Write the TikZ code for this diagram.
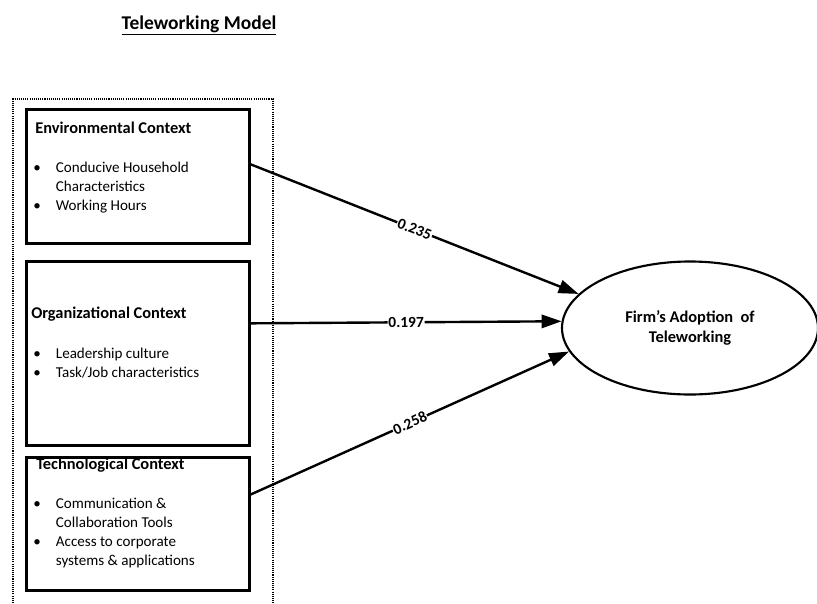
\documentclass[tikz,border=0pt]{standalone}
\usepackage{fontspec}
\setmainfont{Carlito}
\usetikzlibrary{arrows.meta,shapes.geometric}

\tikzset{
  ctxbox/.style={draw, line width=2pt, minimum width=167.25pt, inner sep=0pt, anchor=north west},
  boxtitle/.style={anchor=base west, inner sep=0pt, font=\fontsize{12.3}{14}\selectfont\bfseries},
  itemlist/.style={anchor=base west, inner sep=0pt, font=\fontsize{11.3}{14.4}\selectfont},
  coefarrow/.style={line width=1.8pt, -{Triangle[length=15pt,width=10pt]}},
  coef/.style={midway, sloped, fill=white, inner sep=0.6pt, font=\fontsize{11.6}{13}\selectfont\bfseries},
}
\newcommand{\bitem}{\textbullet}

\begin{document}
\begin{tikzpicture}[x=0.75pt, y=-0.75pt]
  \useasboundingbox (0,0) rectangle (817,603);

  % heading
  \node[anchor=base, inner sep=0pt, font=\fontsize{14.6}{17}\selectfont\bfseries] (heading) at (199,29) {\underline{Teleworking Model}};

  % dotted frame round the three contexts (open at the bottom)
  \draw[line width=0.8pt, dash pattern=on 0.8pt off 0.8pt] (13,603) -- (13,99) -- (273,99) -- (273,603);

  % context boxes
  \node[ctxbox, minimum height=100.5pt] (env) at (25,108) {};
  \node[ctxbox, minimum height=138pt] (org) at (25,260) {};
  \node[ctxbox, minimum height=99.75pt] (tech) at (25,456) {};

  % environmental context
  \node[boxtitle] (envtitle) at (35,133) {Environmental Context};
  \node[itemlist] (envitems) at (33,172) {\begin{tabular}[t]{@{}p{17pt}@{}l@{}}
    \bitem & Conducive Household\\
           & Characteristics\\
    \bitem & Working Hours
  \end{tabular}};

  % organizational context
  \node[boxtitle] (orgtitle) at (31,318) {Organizational Context};
  \node[itemlist] (orgitems) at (33,358) {\begin{tabular}[t]{@{}p{17pt}@{}l@{}}
    \bitem & Leadership culture\\
    \bitem & Task/Job characteristics
  \end{tabular}};

  % technological context
  \node[boxtitle] (techtitle) at (36,469) {Technological Context};
  \node[itemlist] (techitems) at (33,508) {\begin{tabular}[t]{@{}p{17pt}@{}l@{}}
    \bitem & Communication \&\\
           & Collaboration Tools\\
    \bitem & Access to corporate\\
           & systems \& applications
  \end{tabular}};

  % outcome
  \node[draw, ellipse, line width=1.6pt, minimum width=192pt, minimum height=99.75pt, inner sep=0pt,
        align=center, font=\fontsize{12.3}{14.5}\selectfont\bfseries] (firm) at (690,328)
        {Firm’s Adoption~ of\\Teleworking};

  % path coefficients
  \coordinate (envout) at ([yshift=9pt]env.east);
  \coordinate (orgout) at ([yshift=22.5pt]org.east);
  \coordinate (techout) at ([yshift=22pt]tech.east);

  \draw[coefarrow] (envout) -- (firm.163.3) node[coef] (c1) {0.235};
  \draw[coefarrow] (orgout) -- (firm.177.3) node[coef] (c2) {0.197};
  \draw[coefarrow] (techout) -- (firm.191.3) node[coef] (c3) {0.258};
\end{tikzpicture}
\end{document}
